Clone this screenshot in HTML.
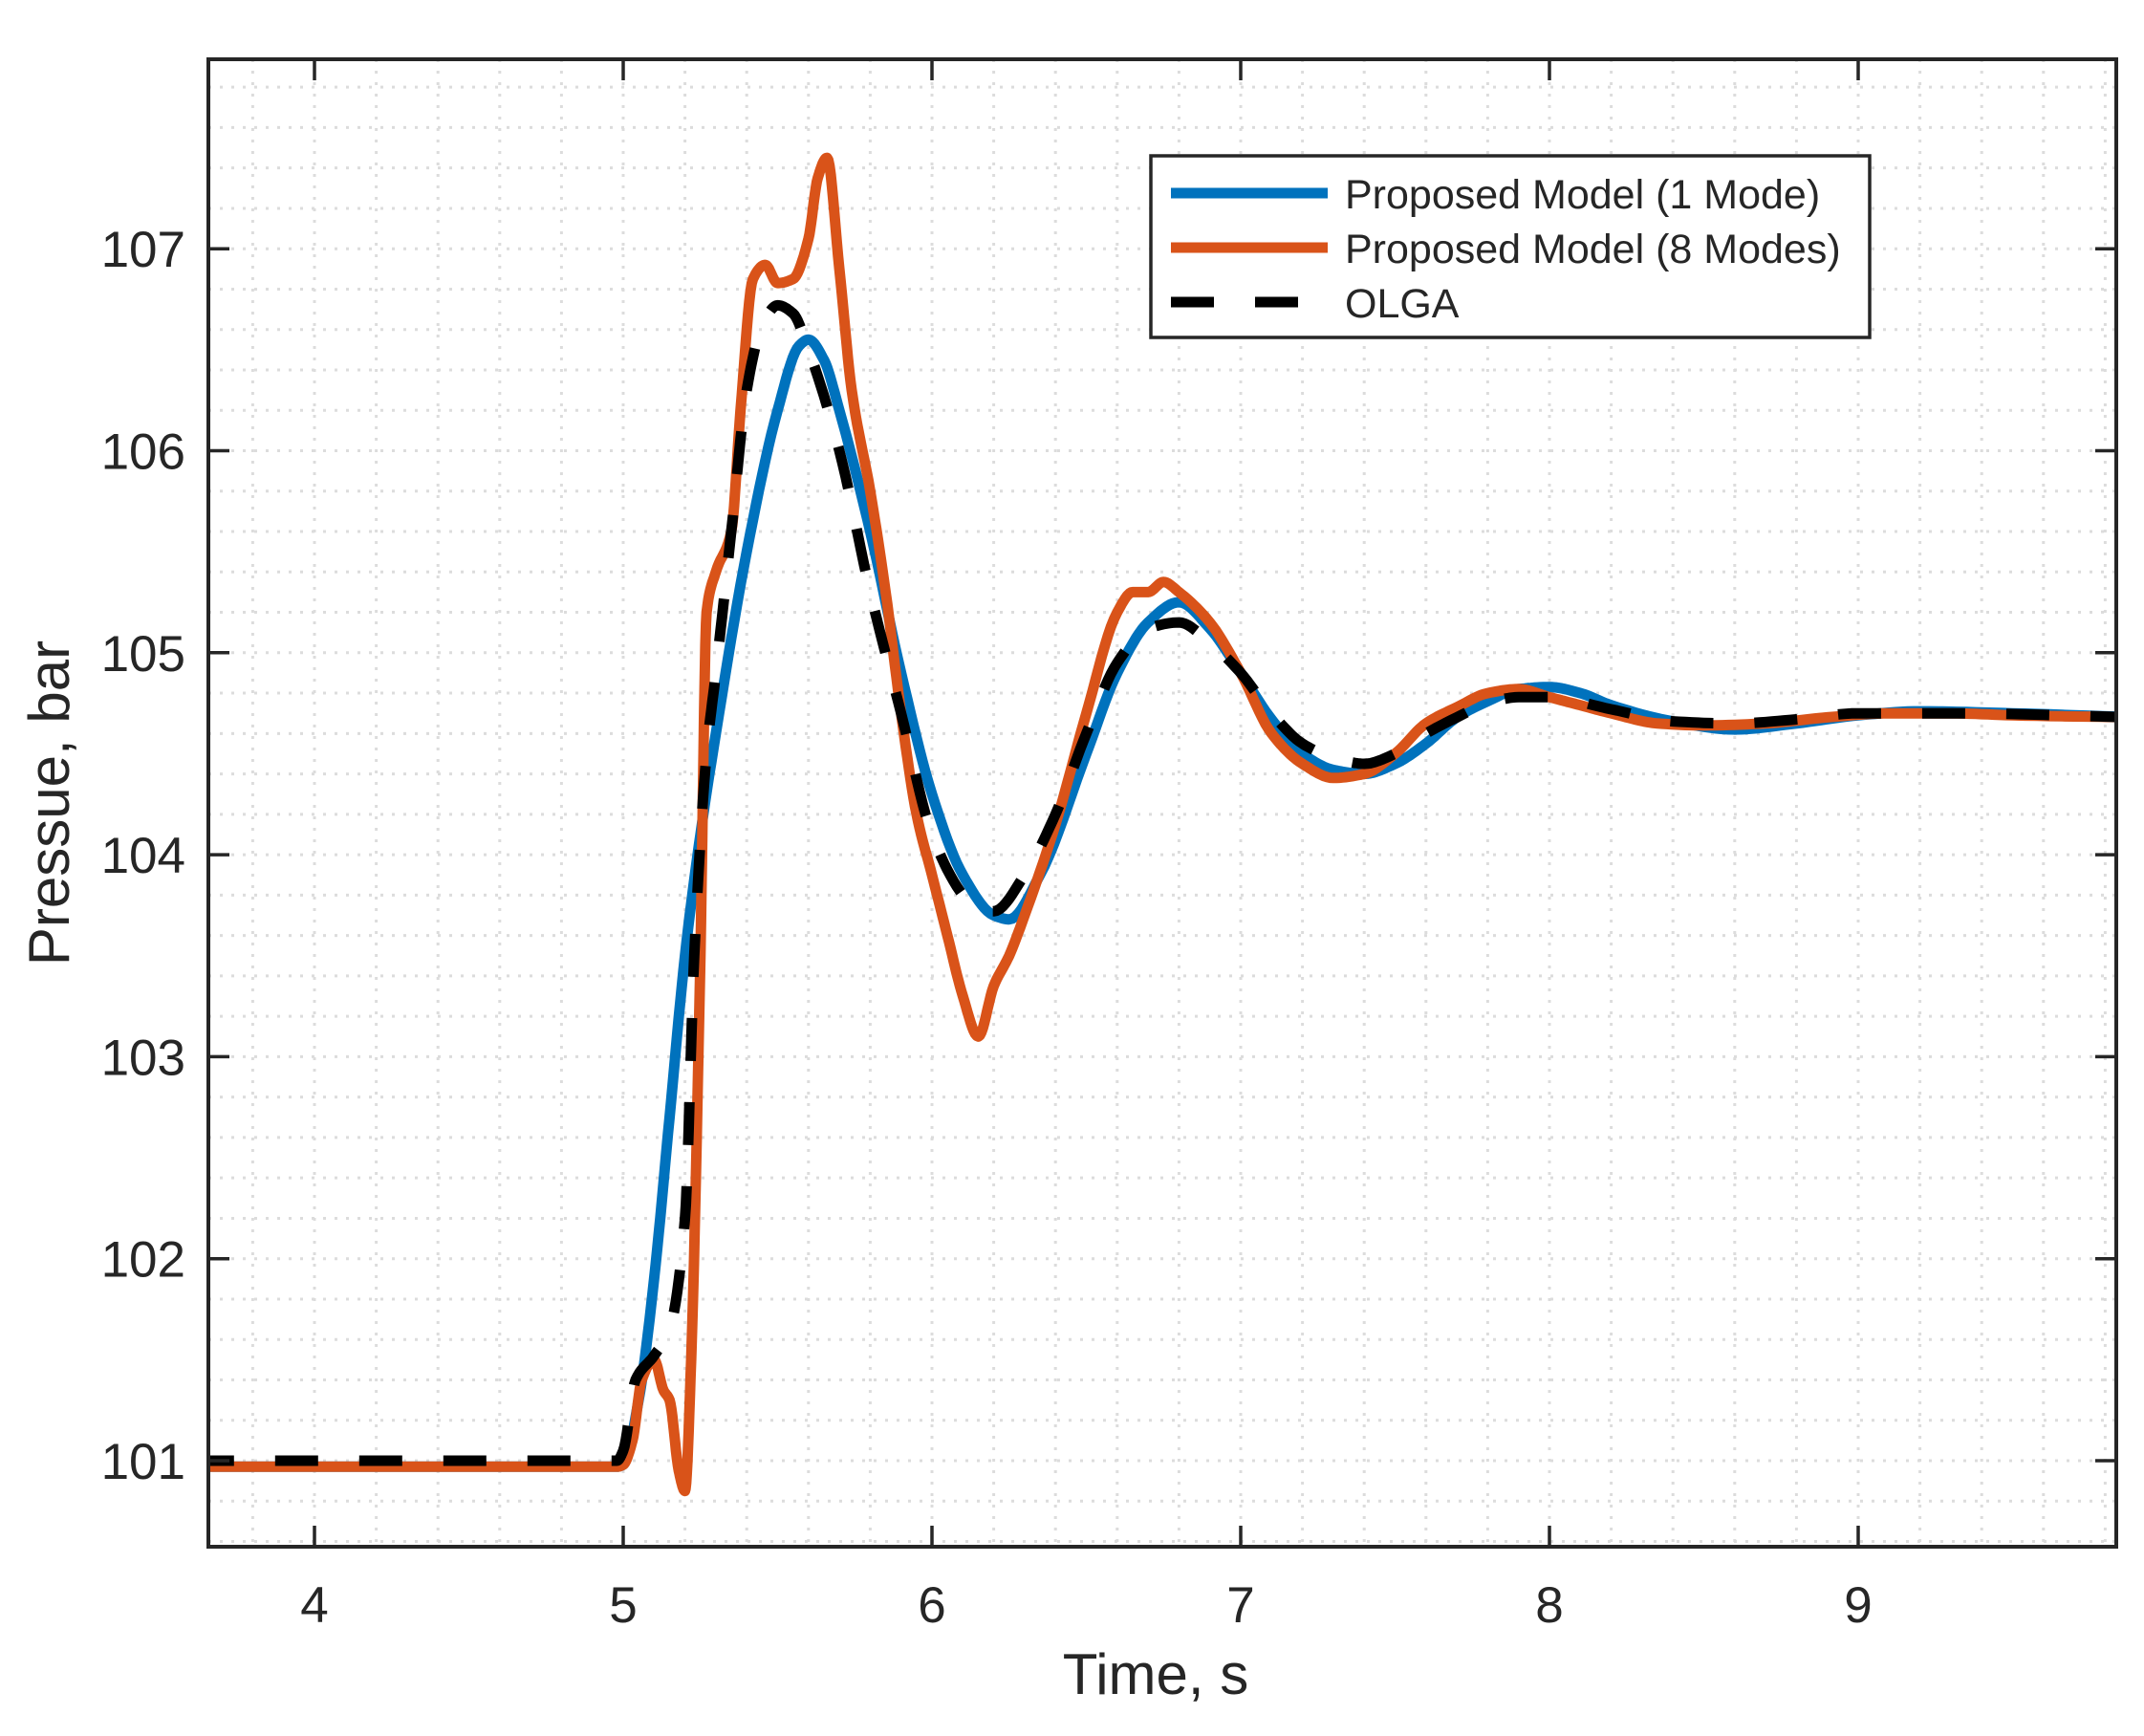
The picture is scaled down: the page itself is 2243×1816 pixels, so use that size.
<!DOCTYPE html>
<html><head><meta charset="utf-8"><style>
html,body{margin:0;padding:0;background:#fff}
svg{display:block}
text{font-family:"Liberation Sans",Arial,sans-serif;fill:#262626}
</style></head><body>
<svg id="s" width="2243" height="1816" viewBox="0 0 2243 1816" xmlns="http://www.w3.org/2000/svg">
<defs><clipPath id="c"><rect x="218" y="62" width="1996" height="1556"/></clipPath></defs>
<rect width="2243" height="1816" fill="#fff"/>
<g id="grid" stroke="#dcdcdc" stroke-width="3" stroke-dasharray="3 9"></g>
<g id="curves" clip-path="url(#c)" fill="none" stroke-linejoin="round"></g>
<rect x="218" y="62" width="1996" height="1556" fill="none" stroke="#262626" stroke-width="4"/>
<g id="ticks" stroke="#262626" stroke-width="3.5"></g>
<g id="labels" font-size="53"></g>
<text x="1209" y="1772" font-size="60" text-anchor="middle">Time, s</text>
<text transform="translate(72,840) rotate(-90)" font-size="60" text-anchor="middle">Pressue, bar</text>
<g>
<rect x="1204" y="163" width="752" height="190" fill="#fff" stroke="#262626" stroke-width="3.5"/>
<line x1="1225" y1="202" x2="1389" y2="202" stroke="#0072BD" stroke-width="11"/>
<line x1="1225" y1="259" x2="1389" y2="259" stroke="#D95319" stroke-width="11"/>
<line x1="1225" y1="316" x2="1389" y2="316" stroke="#000" stroke-width="11" stroke-dasharray="45 43"/>
<text x="1407" y="218" font-size="43" fill="#000">Proposed Model (1 Mode)</text>
<text x="1407" y="275" font-size="43" fill="#000">Proposed Model (8 Modes)</text>
<text x="1407" y="332" font-size="43" fill="#000">OLGA</text>
</g>
</svg>
<script>
var NS="http://www.w3.org/2000/svg";
function X(t){return 652+323*(t-5);}
function Y(p){return 1528-211.3*(p-101);}
function el(tag,a,parent,txt){var e=document.createElementNS(NS,tag);for(var k in a)e.setAttribute(k,a[k]);if(txt!==undefined)e.textContent=txt;document.getElementById(parent).appendChild(e);return e;}
for(var t=3.8;t<9.84;t+=0.2){var x=X(t);el("line",{x1:x,y1:62,x2:x,y2:1618},"grid");}
for(var p=100.4;p<108.1;p+=0.2){var y=Y(p);if(y<64||y>1616)continue;el("line",{x1:218,y1:y,x2:2214,y2:y},"grid");}
for(var i=4;i<=9;i++){var x=X(i);el("line",{x1:x,y1:1618,x2:x,y2:1596},"ticks");el("line",{x1:x,y1:62,x2:x,y2:84},"ticks");el("text",{x:x,y:1697,"text-anchor":"middle"},"labels",""+i);}
for(var j=101;j<=107;j++){var y=Y(j);el("line",{x1:218,y1:y,x2:240,y2:y},"ticks");el("line",{x1:2214,y1:y,x2:2192,y2:y},"ticks");el("text",{x:194,y:y+19,"text-anchor":"end"},"labels",""+j);}
function path(pts){
 var n=pts.length,xs=pts.map(function(q){return q[0];}),ys=pts.map(function(q){return q[1];});
 var d=[],m=[];
 for(var i=0;i<n-1;i++)d.push((ys[i+1]-ys[i])/(xs[i+1]-xs[i]));
 m[0]=d[0];m[n-1]=d[n-2];
 for(var i=1;i<n-1;i++){ if(d[i-1]*d[i]<=0)m[i]=0; else {var h0=xs[i]-xs[i-1],h1=xs[i+1]-xs[i];var w1=2*h1+h0,w2=h1+2*h0;m[i]=(w1+w2)/(w1/d[i-1]+w2/d[i]);} }
 var s="M"+X(xs[0]).toFixed(1)+","+Y(ys[0]).toFixed(1);
 for(var i=0;i<n-1;i++){var h=xs[i+1]-xs[i];
  for(var k=1;k<=10;k++){var u=k/10,h00=2*u*u*u-3*u*u+1,h10=u*u*u-2*u*u+u,h01=-2*u*u*u+3*u*u,h11=u*u*u-u*u;
   var yy=h00*ys[i]+h10*h*m[i]+h01*ys[i+1]+h11*h*m[i+1];
   s+=" L"+X(xs[i]+u*h).toFixed(1)+","+Y(yy).toFixed(1);}}
 return s;}
var blue=[[3.6,100.97],[4.98,100.97],[5.0,100.98],[5.05,101.3],[5.1,101.9],[5.15,102.7],[5.2,103.5],[5.25,104.1],[5.3,104.6],[5.4,105.5],[5.5,106.2],[5.57,106.52],[5.6,106.55],[5.65,106.45],[5.7,106.2],[5.8,105.6],[5.9,104.9],[6.0,104.3],[6.1,103.9],[6.2,103.7],[6.25,103.68],[6.35,103.9],[6.5,104.5],[6.6,104.9],[6.7,105.15],[6.8,105.25],[6.9,105.12],[7.0,104.9],[7.1,104.67],[7.2,104.5],[7.3,104.42],[7.4,104.4],[7.5,104.45],[7.6,104.55],[7.7,104.68],[7.8,104.76],[7.9,104.82],[8.0,104.83],[8.1,104.8],[8.2,104.74],[8.4,104.66],[8.6,104.62],[8.8,104.65],[9.0,104.69],[9.2,104.71],[9.5,104.7],[9.9,104.68]];
var orange=[[3.6,100.97],[4.98,100.97],[5.0,100.98],[5.03,101.1],[5.06,101.4],[5.1,101.5],[5.13,101.35],[5.15,101.3],[5.18,100.95],[5.2,100.85],[5.22,101.5],[5.25,103.5],[5.27,105.2],[5.3,105.4],[5.35,105.6],[5.38,106.2],[5.42,106.85],[5.46,106.92],[5.5,106.83],[5.55,106.85],[5.6,107.05],[5.63,107.35],[5.66,107.45],[5.7,106.9],[5.74,106.3],[5.8,105.8],[5.85,105.3],[5.9,104.7],[5.95,104.2],[6.0,103.9],[6.05,103.6],[6.1,103.3],[6.15,103.1],[6.2,103.35],[6.25,103.5],[6.3,103.7],[6.4,104.15],[6.5,104.7],[6.6,105.2],[6.65,105.3],[6.7,105.3],[6.75,105.35],[6.8,105.3],[6.9,105.15],[7.0,104.9],[7.1,104.6],[7.2,104.45],[7.3,104.38],[7.4,104.4],[7.5,104.5],[7.6,104.65],[7.7,104.73],[7.8,104.8],[7.9,104.82],[8.0,104.78],[8.1,104.74],[8.2,104.7],[8.35,104.65],[8.5,104.64],[8.7,104.65],[8.9,104.68],[9.1,104.7],[9.3,104.7],[9.5,104.69],[9.9,104.68]];
var olga=[[3.6,101.0],[4.98,101.0],[5.0,101.05],[5.04,101.4],[5.1,101.52],[5.15,101.65],[5.2,102.2],[5.23,103.5],[5.27,104.5],[5.3,104.9],[5.35,105.6],[5.4,106.3],[5.45,106.62],[5.5,106.72],[5.55,106.68],[5.6,106.5],[5.7,106.0],[5.8,105.3],[5.9,104.7],[6.0,104.1],[6.1,103.8],[6.15,103.72],[6.2,103.72],[6.3,103.9],[6.4,104.2],[6.5,104.6],[6.6,104.95],[6.7,105.12],[6.8,105.15],[6.9,105.05],[7.0,104.9],[7.1,104.7],[7.2,104.55],[7.3,104.48],[7.4,104.45],[7.5,104.5],[7.6,104.6],[7.7,104.68],[7.8,104.75],[7.9,104.78],[8.0,104.78],[8.2,104.72],[8.4,104.66],[8.6,104.65],[8.8,104.67],[9.0,104.7],[9.3,104.7],[9.9,104.68]];
el("path",{d:path(blue),stroke:"#0072BD","stroke-width":11},"curves");
el("path",{d:path(orange),stroke:"#D95319","stroke-width":11},"curves");
el("path",{d:path(olga),stroke:"#000","stroke-width":11,"stroke-dasharray":"45 43"},"curves");
</script>
</body></html>
